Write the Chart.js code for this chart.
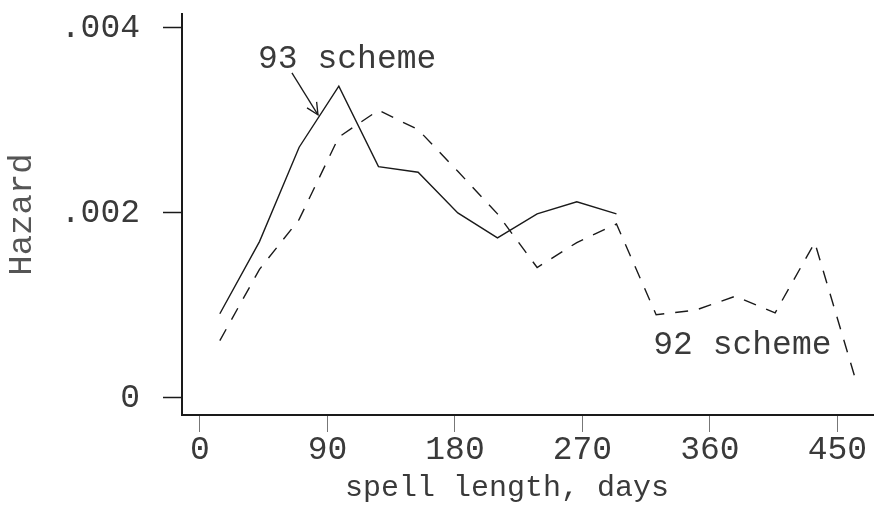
<!DOCTYPE html>
<html><head><meta charset="utf-8">
<script src="https://cdn.jsdelivr.net/npm/chart.js@4.4.1/dist/chart.umd.min.js"></script>
<style>html,body{margin:0;padding:0;background:#fff}#wrap{width:874px;height:507px;position:relative}</style>
</head><body><div id="wrap"><canvas id="c" width="874" height="507"></canvas></div>
<script>
// ---- data ----
const days93 = [14, 42, 70, 98, 126, 154, 182, 210, 238, 266, 294];
const hazard93 = [0.00091, 0.00169, 0.00271, 0.00337, 0.00250, 0.00244, 0.00200, 0.00173, 0.00199, 0.00212, 0.00199];
const days92 = [14, 42, 70, 98, 126, 154, 182, 210, 238, 266, 294, 322, 350, 378, 406, 434, 462];
const hazard92 = [0.00062, 0.00139, 0.00193, 0.00282, 0.00311, 0.00290, 0.00245, 0.00199, 0.00141, 0.00168, 0.00188, 0.00090, 0.00095, 0.00110, 0.00092, 0.00168, 0.00024];
const xTickValues = [0, 90, 180, 270, 360, 450];
const xTickLabels = ['0', '90', '180', '270', '360', '450'];
const yTickValues = [0, 0.002, 0.004];
const yTickLabels = ['0', '.002', '.004'];
const xAxisTitle = 'spell length, days';
const yAxisTitle = 'Hazard';
const label93 = '93 scheme';
const label92 = '92 scheme';

const FONT = '"Liberation Mono", "DejaVu Sans Mono", monospace';
const INK = '#1a1a1a';
const TEXT = '#3a3a3a';

const annotations = {
  id: 'annotations',
  afterDatasetsDraw(chart) {
    const {ctx, scales: {x, y}} = chart;
    ctx.save();
    ctx.fillStyle = TEXT;
    ctx.strokeStyle = INK;
    ctx.lineWidth = 1.3;
    ctx.textBaseline = 'middle';
    ctx.textAlign = 'left';
    ctx.font = '33px ' + FONT;
    ctx.fillText(label93, x.getPixelForValue(41), y.getPixelForValue(0.00366));
    ctx.fillText(label92, x.getPixelForValue(320), y.getPixelForValue(0.00057));
    // arrow
    const x0 = x.getPixelForValue(64.9), y0 = y.getPixelForValue(0.003514);
    const x1 = x.getPixelForValue(83.3), y1 = y.getPixelForValue(0.00306);
    ctx.beginPath(); ctx.moveTo(x0, y0); ctx.lineTo(x1, y1); ctx.stroke();
    const ang = Math.atan2(y1 - y0, x1 - x0), L = 13, a = 0.45;
    ctx.beginPath();
    ctx.moveTo(x1 - L * Math.cos(ang - a), y1 - L * Math.sin(ang - a));
    ctx.lineTo(x1, y1);
    ctx.lineTo(x1 - L * Math.cos(ang + a), y1 - L * Math.sin(ang + a));
    ctx.stroke();
    // x axis title
    ctx.textAlign = 'center';
    ctx.font = '30px ' + FONT;
    ctx.fillText(xAxisTitle, x.getPixelForValue(216.7), x.bottom - 19);
    ctx.restore();
  }
};

new Chart(document.getElementById('c'), {
  type: 'line',
  data: {
    datasets: [
      {label: label93, data: days93.map((d, i) => ({x: d, y: hazard93[i]})),
       borderColor: INK, borderWidth: 1.4, pointRadius: 0, tension: 0, fill: false},
      {label: label92, data: days92.map((d, i) => ({x: d, y: hazard92[i]})),
       borderColor: INK, borderWidth: 1.4, borderDash: [13, 11], pointRadius: 0, tension: 0, fill: false}
    ]
  },
  options: {
    responsive: false,
    animation: false,
    devicePixelRatio: 1,
    layout: {padding: {top: 14, right: 0, bottom: 0, left: 0}},
    plugins: {legend: {display: false}, tooltip: {enabled: false}},
    scales: {
      x: {
        type: 'linear',
        min: -12.7, max: 475.8,
        afterBuildTicks(s) { s.ticks = xTickValues.map(v => ({value: v})); },
        afterFit(s) { s.height = 92; s.paddingLeft = 0; s.paddingRight = 0; },
        ticks: {
          autoSkip: false, maxRotation: 0, padding: 2, color: TEXT,
          font: {family: FONT, size: 33, lineHeight: 1},
          callback: (v, i) => xTickLabels[i]
        },
        grid: {drawOnChartArea: false, drawTicks: true, tickLength: 17, tickColor: '#777', tickWidth: 1},
        border: {display: true, color: INK, width: 2},
        title: {display: false}
      },
      y: {
        type: 'linear',
        min: -0.000184, max: 0.00415,
        afterBuildTicks(s) { s.ticks = yTickValues.map(v => ({value: v})); },
        afterFit(s) { s.width = 182; s.paddingTop = 0; s.paddingBottom = 0; },
        ticks: {
          autoSkip: false, padding: 23, color: TEXT,
          font: {family: FONT, size: 33, lineHeight: 1},
          callback: (v, i) => yTickLabels[i]
        },
        grid: {drawOnChartArea: false, drawTicks: true, tickLength: 19, tickColor: INK, tickWidth: 1.5},
        border: {display: true, color: INK, width: 2},
        title: {display: true, text: yAxisTitle, color: '#555',
                font: {family: FONT, size: 34, lineHeight: 1}, padding: {top: 5, bottom: 0}}
      }
    }
  },
  plugins: [annotations]
});
</script></body></html>
